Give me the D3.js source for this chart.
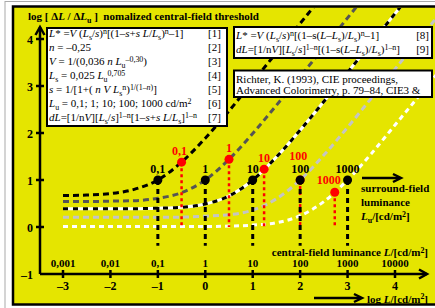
<!DOCTYPE html>
<html>
<head>
<meta charset="utf-8">
<script src="https://cdn.jsdelivr.net/npm/d3@7"></script>
<style>
  body { margin: 0; background: #fff; }
  svg { display: block; font-family: 'Liberation Serif', 'Times New Roman', serif; }
  text { white-space: pre; }
</style>
</head>
<body>
<svg width="435" height="308"></svg>
<script>
// sample points along log L (decades)
const LOG_L = [-3, -2.5, -2, -1.5, -1, -0.5, 0, 0.5, 1, 1.5, 2, 2.5, 3, 3.5, 4, 4.5, 5];

// normalized threshold log[dL/dLu]
const CURVE_LU01 = [0.67, 0.68, 0.71, 0.80, 1.00, 1.38, 1.89, 2.47, 3.09, 3.71, 4.33, 4.95, 5.58, null, null, null, null];
const CURVE_LU1 = [0.54, 0.54, 0.55, 0.56, 0.61, 0.73, 1.00, 1.44, 1.99, 2.59, 3.20, 3.82, 4.45, 5.07, null, null, null];
const CURVE_LU10 = [0.39, 0.39, 0.39, 0.39, 0.40, 0.42, 0.49, 0.66, 1.00, 1.49, 2.06, 2.67, 3.29, 3.91, 4.54, 5.16, null];
const CURVE_LU100 = [0.21, 0.21, 0.21, 0.21, 0.21, 0.21, 0.23, 0.26, 0.36, 0.60, 1.00, 1.53, 2.12, 2.74, 3.36, 3.98, 4.61];
const CURVE_LU1000 = [0.01, 0.01, 0.01, 0.01, 0.01, 0.01, 0.01, 0.02, 0.04, 0.09, 0.24, 0.54, 1.00, 1.56, 2.17, 2.78, 3.40];

// surround luminances (black dots sit at log Lu, value 1)
const LU_LOG = [-1, 0, 1, 2, 3];
const LU_LABELS = ['0,1', '1', '10', '100', '1000'];

// red marker points
const RED_X = [-0.5, 0.5, 1.24, 2.0, 2.73];
const RED_Y = [1.38, 1.44, 1.23, 1.0, 0.74];

// axis ticks
const X_TICKS = [-3, -2, -1, 0, 1, 2, 3, 4];
const X_TICK_LABELS = ['–3', '–2', '–1', '0', '1', '2', '3', '4'];
const X_LUM_LABELS = ['0,001', '0,01', '0,1', '1', '10', '100', '1000', '10000'];
const Y_TICKS = [-1, 0, 1, 2, 3, 4];
const Y_TICK_LABELS = ['–1', '0', '1', '2', '3', '4'];

const YELLOW = '#e5e500';

const svg = d3.select('svg');
const x = d3.scaleLinear().domain([-3, 4]).range([63, 395]);
const y = d3.scaleLinear().domain([-1, 4]).range([274, 39]);

// write text with italic / sub / sup pieces
function rich(sel, parts) {
  let cur = 0;
  parts.forEach(([t, f = '']) => {
    const off = f.includes('b') ? 3 : f.includes('p') ? -3.5 : 0;
    const ts = sel.append('tspan').attr('dy', off - cur).text(t);
    cur = off;
    if (f.includes('i')) ts.attr('font-style', 'italic');
    if (off !== 0) ts.attr('font-size', '0.72em');
  });
  return sel;
}

// frame
svg.append('rect').attr('x', 5).attr('y', 1.5).attr('width', 440).attr('height', 320)
    .attr('fill', 'none').attr('stroke', '#aaa').attr('stroke-width', 1);
svg.append('rect').attr('x', 13).attr('y', 6.5).attr('width', 430).attr('height', 298)
    .attr('fill', YELLOW).attr('stroke', '#000').attr('stroke-width', 2.5);

svg.append('clipPath').attr('id', 'plot')
  .append('rect').attr('x', 14.5).attr('y', 8).attr('width', 421).attr('height', 295);

const plot = svg.append('g').attr('clip-path', 'url(#plot)');

// curves
const line = d3.line()
    .defined(d => d[1] != null)
    .x(d => x(d[0]))
    .y(d => y(d[1]))
    .curve(d3.curveMonotoneX);

const pts = arr => LOG_L.map((l, i) => [l, arr[i]]);

plot.append('path').attr('d', line(pts(CURVE_LU1000)))
    .attr('fill', 'none').attr('stroke', '#fff').attr('stroke-width', 3).attr('stroke-dasharray', '5,4');
plot.append('path').attr('d', line(pts(CURVE_LU100)))
    .attr('fill', 'none').attr('stroke', '#c4c4c4').attr('stroke-width', 3).attr('stroke-dasharray', '6,4');
plot.append('path').attr('d', line(pts(CURVE_LU10)))
    .attr('fill', 'none').attr('stroke', '#fff').attr('stroke-width', 3);
plot.append('path').attr('d', line(pts(CURVE_LU10)))
    .attr('fill', 'none').attr('stroke', '#000').attr('stroke-width', 3).attr('stroke-dasharray', '5,5');
plot.append('path').attr('d', line(pts(CURVE_LU1)))
    .attr('fill', 'none').attr('stroke', '#555').attr('stroke-width', 3).attr('stroke-dasharray', '6,4');
plot.append('path').attr('d', line(pts(CURVE_LU01)))
    .attr('fill', 'none').attr('stroke', '#000').attr('stroke-width', 3).attr('stroke-dasharray', '6,4');

// red verticals
plot.selectAll('.redv').data(RED_X).enter().append('line')
    .attr('x1', d => x(d)).attr('x2', d => x(d))
    .attr('y1', (d, i) => y(RED_Y[i])).attr('y2', y(0))
    .attr('stroke', '#f00').attr('stroke-width', 2.5).attr('stroke-dasharray', '3,3');

// black verticals
plot.selectAll('.blackv').data(LU_LOG).enter().append('line')
    .attr('x1', d => x(d)).attr('x2', d => x(d))
    .attr('y1', y(1)).attr('y2', y(-0.4))
    .attr('stroke', '#000').attr('stroke-width', 3).attr('stroke-dasharray', '5,4');

plot.selectAll('.reddot').data(RED_X).enter().append('circle')
    .attr('cx', d => x(d)).attr('cy', (d, i) => y(RED_Y[i])).attr('r', 4.5).attr('fill', '#f00');
plot.selectAll('.blackdot').data(LU_LOG).enter().append('circle')
    .attr('cx', d => x(d)).attr('cy', y(1)).attr('r', 4.5).attr('fill', '#000');

const lbl = plot.append('g').attr('font-weight', 'bold').attr('font-size', 12).attr('text-anchor', 'middle');
lbl.selectAll('.bl').data(LU_LOG).enter().append('text')
    .attr('x', d => x(d)).attr('y', y(1) - 7).text((d, i) => LU_LABELS[i]);
// red labels: last two are lifted / shifted to clear the black ones
const RED_DX = [-2, 0, 0, -2, -6];
const RED_DY = [-7, -7, -7, -20, -8];
lbl.selectAll('.rl').data(RED_X).enter().append('text')
    .attr('x', (d, i) => x(d) + RED_DX[i]).attr('y', (d, i) => y(RED_Y[i]) + RED_DY[i])
    .attr('fill', '#f00').text((d, i) => LU_LABELS[i]);

// axes
const ax = svg.append('g').attr('stroke', '#000').attr('stroke-width', 2.5).attr('fill', 'none');
ax.append('path').attr('d', `M40,${y(-1)}H427`);
ax.append('path').attr('d', `M419,${y(-1) - 4.5}L427,${y(-1)}L419,${y(-1) + 4.5}`);
ax.append('path').attr('d', `M40,${y(-1)}V27`);
ax.append('path').attr('d', `M35.5,35L40,27L44.5,35`);

ax.selectAll('.xt').data(X_TICKS).enter().append('line')
    .attr('x1', d => x(d)).attr('x2', d => x(d)).attr('y1', y(-1) - 4).attr('y2', y(-1) + 4);
ax.selectAll('.yt').data(Y_TICKS.filter(d => d > -1)).enter().append('line')
    .attr('x1', 36).attr('x2', 44).attr('y1', d => y(d)).attr('y2', d => y(d));

const tl = svg.append('g').attr('font-weight', 'bold').attr('fill', '#000');
tl.selectAll('.xl').data(X_TICKS).enter().append('text')
    .attr('x', d => x(d)).attr('y', y(-1) + 16).attr('text-anchor', 'middle').attr('font-size', 12)
    .text((d, i) => X_TICK_LABELS[i]);
tl.selectAll('.xu').data(X_TICKS).enter().append('text')
    .attr('x', d => x(d)).attr('y', y(-1) - 7).attr('text-anchor', 'middle').attr('font-size', 11)
    .text((d, i) => X_LUM_LABELS[i]);
tl.selectAll('.yl').data(Y_TICKS).enter().append('text')
    .attr('x', 33).attr('y', d => y(d) + 4.5).attr('text-anchor', 'end').attr('font-size', 12)
    .text((d, i) => Y_TICK_LABELS[i]);

// title and axis captions
rich(tl.append('text').attr('x', 28).attr('y', 20).attr('font-size', 11),
  [['log [ Δ'], ['L', 'i'], [' / Δ'], ['L', 'i'], ['u', 'b'], [' ]  nomalized central-field threshold']]);

rich(tl.append('text').attr('x', 428).attr('y', 256).attr('font-size', 11).attr('text-anchor', 'end'),
  [['central-field luminance '], ['L', 'i'], ['/[cd/m'], ['2', 'p'], [']']]);

rich(tl.append('text').attr('x', 428).attr('y', 302.5).attr('font-size', 11).attr('text-anchor', 'end'),
  [['log '], ['L', 'i'], ['/[cd/m'], ['2', 'p'], [']']]);
ax.append('path').attr('d', 'M314,298H361');
ax.append('path').attr('d', 'M354,294L362,298L354,302');

ax.append('path').attr('d', 'M362,178H400');
ax.append('path').attr('d', 'M393,174L401,178L393,182');
tl.append('text').attr('x', 361).attr('y', 192).attr('font-size', 11).text('surround-field');
tl.append('text').attr('x', 361).attr('y', 206).attr('font-size', 11).text('luminance');
rich(tl.append('text').attr('x', 361).attr('y', 220).attr('font-size', 11),
  [['L', 'i'], ['u', 'b'], ['/[cd/m'], ['2', 'p'], [']']]);

// formula boxes
const boxes = svg.append('g');
boxes.append('rect').attr('x', 47).attr('y', 28).attr('width', 180).attr('height', 98)
    .attr('fill', '#fff').attr('stroke', '#000').attr('stroke-width', 2);
boxes.append('rect').attr('x', 234).attr('y', 27).attr('width', 198).attr('height', 31)
    .attr('fill', '#fff').attr('stroke', '#000').attr('stroke-width', 2);
boxes.append('rect').attr('x', 234).attr('y', 70.5).attr('width', 198).attr('height', 26.5)
    .attr('fill', '#fff').attr('stroke', '#000').attr('stroke-width', 2);

const LEFT_LINES = [
  [['L', 'i'], ['* ='], ['V', 'i'], [' ('], ['L', 'i'], ['s', 'b'], ['/'], ['s', 'i'], [')'], ['n', 'p'], ['[(1–'], ['s', 'i'], ['+'], ['s', 'i'], [' '], ['L', 'i'], ['/'], ['L', 'i'], ['s', 'b'], [')'], ['n', 'p'], ['–1]']],
  [['n', 'i'], [' = –0,25']],
  [['V', 'i'], [' = 1/(0,036 '], ['n', 'i'], [' '], ['L', 'i'], ['u', 'b'], ['–0,30', 'p'], [')']],
  [['L', 'i'], ['s', 'b'], [' = 0,025 '], ['L', 'i'], ['u', 'b'], ['0,705', 'p']],
  [['s', 'i'], [' = 1/[1+( '], ['n', 'i'], [' '], ['V', 'i'], [' '], ['L', 'i'], ['s', 'b'], ['n', 'p'], [')'], ['1/(1–', 'p'], ['n', 'pi'], [')', 'p'], [']']],
  [['L', 'i'], ['u', 'b'], [' = 0,1; 1; 10; 100; 1000 cd/m'], ['2', 'p']],
  [['dL', 'i'], ['=[1/n'], ['V', 'i'], ['][' ], ['L', 'i'], ['s', 'b'], ['/'], ['s', 'i'], [']'], ['1–n', 'p'], ['[1–'], ['s', 'i'], ['+'], ['s', 'i'], [' '], ['L', 'i'], ['/'], ['L', 'i'], ['s', 'b'], [']'], ['1–n', 'p']]
];
const ft = svg.append('g').attr('font-size', 11).attr('fill', '#000');
LEFT_LINES.forEach((parts, i) => {
  rich(ft.append('text').attr('x', 49).attr('y', 37 + i * 14), parts);
  ft.append('text').attr('x', 208).attr('y', 37 + i * 14).text(`[${i + 1}]`);
});

const RIGHT_LINES = [
  [['L', 'i'], ['* ='], ['V', 'i'], [' ('], ['L', 'i'], ['s', 'b'], ['/'], ['s', 'i'], [')'], ['n', 'p'], ['[(1–s('], ['L', 'i'], ['–'], ['L', 'i'], ['s', 'b'], [')/'], ['L', 'i'], ['s', 'b'], [')'], ['n', 'p'], ['–1]']],
  [['dL', 'i'], ['=[1/n'], ['V', 'i'], ['][' ], ['L', 'i'], ['s', 'b'], ['/'], ['s', 'i'], [']'], ['1–n', 'p'], ['[(1–s('], ['L', 'i'], ['–'], ['L', 'i'], ['s', 'b'], [')/'], ['L', 'i'], ['s', 'b'], [')'], ['1–n', 'p'], [']']]
];
RIGHT_LINES.forEach((parts, i) => {
  rich(ft.append('text').attr('x', 236).attr('y', 39 + i * 14), parts);
  ft.append('text').attr('x', 429).attr('y', 39 + i * 14).attr('text-anchor', 'end').text(`[${i + 8}]`);
});

svg.append('clipPath').attr('id', 'ref')
  .append('rect').attr('x', 235).attr('y', 71.5).attr('width', 196).attr('height', 24.5);
const ref = ft.append('g').attr('clip-path', 'url(#ref)');
ref.append('text').attr('x', 236).attr('y', 83).text('Richter, K. (1993), CIE proceedings,');
ref.append('text').attr('x', 236).attr('y', 94).text('Advanced Colorimetry, p. 79–84, CIE3 &');
</script>
</body>
</html>
